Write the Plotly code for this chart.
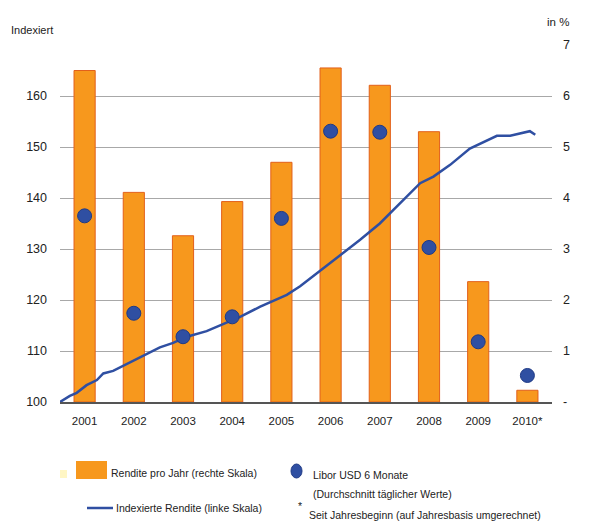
import plotly.graph_objects as go

years = [2001, 2002, 2003, 2004, 2005, 2006, 2007, 2008, 2009, 2010]
year_labels = ["2001", "2002", "2003", "2004", "2005", "2006", "2007", "2008", "2009", "2010*"]
rendite_pro_jahr = [6.50, 4.11, 3.26, 3.93, 4.70, 6.55, 6.21, 5.30, 2.36, 0.23]
libor_usd_6m = [3.65, 1.74, 1.28, 1.67, 3.60, 5.31, 5.29, 3.03, 1.18, 0.52]

line_t = [2001.00, 2001.20, 2001.34, 2001.54, 2001.75, 2001.88, 2002.08, 2002.29, 2002.49,
          2002.76, 2003.03, 2003.30, 2003.58, 2003.98, 2004.25, 2004.66, 2005.07,
          2005.34, 2005.61, 2005.88, 2006.28, 2006.69, 2007.10, 2007.50, 2007.91,
          2008.32, 2008.59, 2008.93, 2009.33, 2009.60, 2009.88, 2010.15, 2010.35,
          2010.55, 2010.66]
line_idx = [100.0, 101.2, 101.8, 103.3, 104.3, 105.6, 106.1, 107.1, 108.0,
            109.4, 110.7, 111.6, 112.8, 113.9, 115.0, 116.7, 118.7,
            119.8, 121.0, 122.7, 125.7, 128.8, 131.8, 135.0, 138.9,
            142.9, 144.2, 146.5, 149.7, 151.0, 152.2, 152.2, 152.7,
            153.1, 152.4]

left_ticks = [100, 110, 120, 130, 140, 150, 160]
right_ticks = [0, 1, 2, 3, 4, 5, 6, 7]
right_ticktext = ["-", "1", "2", "3", "4", "5", "6", "7"]

FONT = "Liberation Sans, Arial, sans-serif"
ORANGE = "#F7981D"
ORANGE_EDGE = "#E2601B"
BLUE = "#2F4FA2"

mid = [y + 0.5 for y in years]

fig = go.Figure()
fig.add_trace(go.Bar(x=mid, y=rendite_pro_jahr, width=0.43, name="Rendite pro Jahr (rechte Skala)",
                     marker=dict(color=ORANGE, line=dict(color=ORANGE_EDGE, width=1)),
                     xaxis="x", yaxis="y", showlegend=False))
fig.add_trace(go.Scatter(x=line_t, y=line_idx, mode="lines", name="Indexierte Rendite (linke Skala)",
                         line=dict(color=BLUE, width=2.5), xaxis="x", yaxis="y2", showlegend=False))
fig.add_trace(go.Scatter(x=mid, y=libor_usd_6m, mode="markers", name="Libor USD 6 Monate",
                         marker=dict(color=BLUE, size=14, line=dict(color="#1F3A85", width=1)),
                         xaxis="x", yaxis="y3", showlegend=False))

# page body has an 8px offset; positions below are in screenshot pixels
OFF = 8
W, H = 602, 522
L, R, T, B = 60 - OFF, 552 - OFF, 45 - OFF, 402 - OFF


def px(x):
    return (x - OFF - L) / (R - L)


def py(y):
    return (B - (y - OFF)) / (B - T)


shapes = [
    dict(type="rect", xref="paper", yref="paper", x0=px(60), x1=px(67), y0=py(478), y1=py(470),
         fillcolor="#FFF6C4", line=dict(width=0)),
    dict(type="rect", xref="paper", yref="paper", x0=px(76), x1=px(107), y0=py(479), y1=py(461),
         fillcolor=ORANGE, line=dict(width=0)),
    dict(type="line", xref="paper", yref="paper", x0=px(87), x1=px(113), y0=py(508), y1=py(508),
         line=dict(color=BLUE, width=2.5)),
    dict(type="circle", xref="paper", yref="paper", x0=px(291), x1=px(302), y0=py(478), y1=py(464),
         fillcolor=BLUE, line=dict(color="#1F3A85", width=1)),
]

txt = dict(family=FONT, size=10.5, color="#222222")
annotations = [
    dict(text="Indexiert", x=px(9), y=py(30), xref="paper", yref="paper", xanchor="left",
         yanchor="middle", showarrow=False, font=dict(family=FONT, size=11, color="#222222")),
    dict(text="in %", x=px(571), y=py(22), xref="paper", yref="paper", xanchor="right",
         yanchor="middle", showarrow=False, font=dict(family=FONT, size=11.5, color="#222222")),
    dict(text="Rendite pro Jahr (rechte Skala)", x=px(109), y=py(473), xref="paper", yref="paper",
         xanchor="left", yanchor="middle", showarrow=False, font=txt),
    dict(text="Indexierte Rendite (linke Skala)", x=px(114), y=py(508), xref="paper", yref="paper",
         xanchor="left", yanchor="middle", showarrow=False, font=txt),
    dict(text="Libor USD 6 Monate", x=px(311), y=py(475), xref="paper", yref="paper",
         xanchor="left", yanchor="middle", showarrow=False, font=txt),
    dict(text="(Durchschnitt täglicher Werte)", x=px(311), y=py(494), xref="paper", yref="paper",
         xanchor="left", yanchor="middle", showarrow=False, font=txt),
    dict(text="*", x=px(296), y=py(506), xref="paper", yref="paper",
         xanchor="left", yanchor="middle", showarrow=False, font=txt),
    dict(text="Seit Jahresbeginn (auf Jahresbasis umgerechnet)", x=px(307), y=py(515), xref="paper",
         yref="paper", xanchor="left", yanchor="middle", showarrow=False, font=txt),
]

fig.update_layout(
    width=W, height=H,
    margin=dict(l=L, r=W - R, t=T, b=H - B, autoexpand=False),
    paper_bgcolor="white", plot_bgcolor="white",
    font=dict(family=FONT, size=12, color="#222222"),
    xaxis=dict(range=[2001, 2011], tickvals=mid, ticktext=year_labels, showgrid=False,
               showline=True, linecolor="#555555", linewidth=1.5, ticks="",
               ticklabelstandoff=7, tickfont=dict(size=11.5), zeroline=False),
    yaxis=dict(range=[0, 7], side="right", tickvals=right_ticks, ticktext=right_ticktext,
               showgrid=True, gridcolor="#A8A8A8", gridwidth=1, zeroline=False, ticks="",
               ticklabelstandoff=10, tickfont=dict(size=12.5), showline=False),
    yaxis2=dict(range=[100, 170], side="left", overlaying="y", tickvals=left_ticks,
                showgrid=False, zeroline=False, ticks="", ticklabelstandoff=12,
                tickfont=dict(size=12.5), showline=False),
    yaxis3=dict(range=[0, 7], overlaying="y", visible=False),
    shapes=shapes,
    annotations=annotations,
    bargap=0.5,
)

fig.write_html("out.html")
